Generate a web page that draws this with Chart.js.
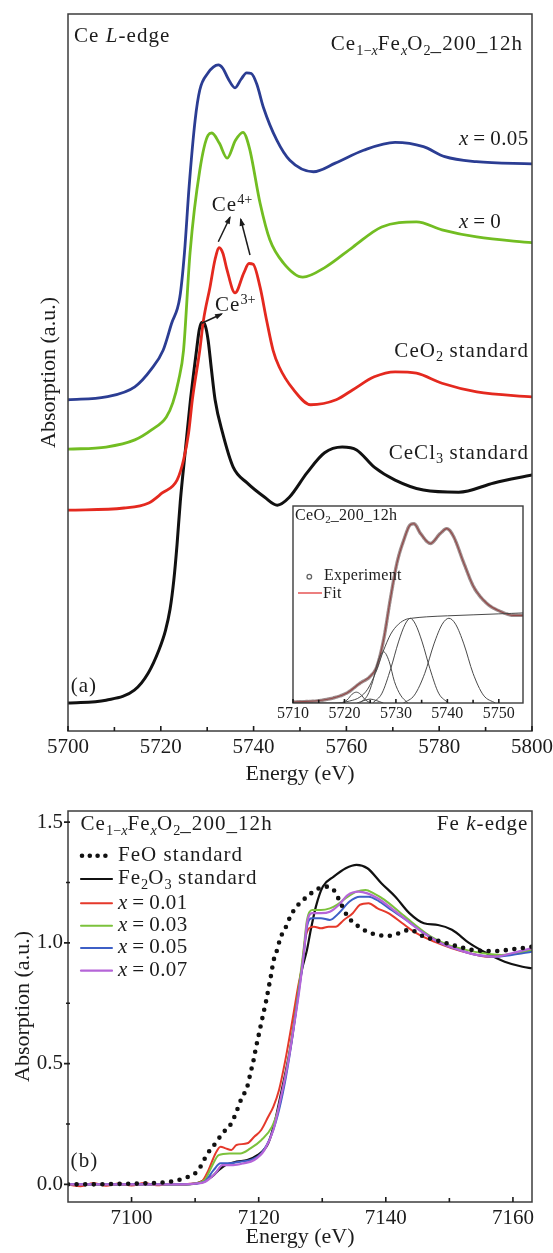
<!DOCTYPE html>
<html><head><meta charset="utf-8">
<script src="https://cdn.jsdelivr.net/npm/chart.js@4.4.1/dist/chart.umd.min.js"></script>
<style>
html,body{margin:0;padding:0;background:#fff}
body{position:relative;width:553px;height:1253px;overflow:hidden}
canvas{position:absolute;display:block}
.t{position:absolute;white-space:nowrap;line-height:1;font-family:"Liberation Serif",serif;color:#1c1c1c;letter-spacing:0.05em;z-index:5}
.t sub,.t sup{font-size:0.68em;line-height:0;position:relative;vertical-align:baseline;letter-spacing:0}
.t sub{top:0.32em}
.t sup{top:-0.5em}
</style></head><body>
<canvas id="ca" width="553" height="800" style="left:0;top:0"></canvas>
<canvas id="cb" width="553" height="453" style="left:0;top:800px"></canvas>
<canvas id="ci" width="270" height="230" style="left:263px;top:496px"></canvas>
<script>
// ---------------- Panel (a): Ce L-edge ----------------
const aXTicks = [5700, 5720, 5740, 5760, 5780, 5800];
const aXMinor = [5710, 5730, 5750, 5770, 5790];

const aE_x005 = [5700,5708.2,5714.4,5718,5720.5,5722.3,5724.1,5725.1,5726.1,5727.4,5728.4,5730.2,5731.3,5732.4,5733.4,5734.5,5736.0,5737.3,5738.5,5739.5,5740.7,5742.1,5745.0,5747.8,5752.9,5757.6,5763.7,5770.5,5776.6,5781.2,5788.0,5800];
const aY_x005 = [46.2,46.6,48.0,50.5,53.1,56.8,60.5,66.7,75.9,85.2,89.4,91.8,92.6,92.9,92.4,91.0,89.7,90.9,91.8,91.7,90.2,87.0,82.4,79.6,78.0,79.2,81.0,82.1,81.5,80.1,79.4,79.1];

const aE_x0 = [5700,5708.2,5714.4,5718.0,5721.2,5722.6,5723.8,5724.9,5726.3,5728.4,5730.2,5731.0,5732.6,5734.3,5736.1,5737.7,5739.1,5741.4,5743.5,5746.4,5750.6,5755.5,5761.4,5767.6,5775.1,5780.6,5788.1,5800];
const aY_x0 = [39.3,39.6,40.6,42.0,43.8,45.8,48.8,53.1,66.7,78.2,83.1,83.4,82.0,79.9,82.4,83.5,81.3,73.6,68.5,65.3,63.3,64.7,67.5,70.3,71.0,69.9,68.9,68.1];

const aE_ceo2 = [5700,5712.1,5717.4,5720.3,5723.5,5724.9,5726.0,5726.8,5728.4,5729.2,5730.6,5731.7,5732.6,5733.4,5734.2,5736.0,5737.9,5739.0,5739.9,5741.4,5742.8,5744.2,5745.5,5748.6,5752.3,5757.8,5761.4,5766.0,5770.5,5775.1,5780.6,5788.1,5800];
const aY_ceo2 = [30.8,31.1,31.8,33.2,35.0,37.8,41.6,46.2,53.1,57.3,61.9,65.8,67.4,66.6,64.5,61.1,63.9,65.2,65.1,61.9,57.3,53.1,50.8,47.6,45.5,46.2,47.6,49.4,50.1,49.9,48.5,47.3,46.6];

const aE_cecl3 = [5700,5708.2,5714.3,5717.3,5719.6,5721.0,5722.0,5722.8,5723.5,5724.2,5725.3,5726.4,5727.7,5728.3,5728.9,5729.6,5730.2,5730.9,5731.7,5733.3,5735.6,5738.6,5742.4,5745.1,5747.7,5751.5,5755.3,5759.1,5762.2,5766.0,5770.5,5776.6,5784.2,5791.8,5800];
const aY_cecl3 = [3.9,4.3,5.7,8.1,11.3,14.0,17.0,21.0,26.0,32.0,39.2,46.2,53.1,56.0,57.0,56.5,54.5,50.5,46.2,41.6,36.8,34.6,32.6,31.5,32.6,36.0,38.8,39.6,39.2,36.8,35.0,33.6,33.3,34.6,35.7];

// ---------------- Inset: CeO2_200_12h fit ----------------
const iXTicks = [5710, 5720, 5730, 5740, 5750];
const iXMinor = [5715, 5725, 5735, 5745];
const iE_exp = [5710,5715.9,5720.4,5723.0,5725.0,5726.3,5727.6,5728.9,5730.2,5731.5,5732.8,5733.5,5734.8,5736.7,5738.6,5739.9,5741.2,5743.2,5745.1,5747.7,5750.3,5752.9,5755];
const iY_exp = [0.01,0.03,0.10,0.20,0.27,0.37,0.64,1.05,1.42,1.65,1.81,1.82,1.72,1.62,1.72,1.77,1.69,1.42,1.18,1.01,0.93,0.89,0.89];
const iY_fit = [0.01,0.03,0.10,0.20,0.27,0.37,0.64,1.05,1.42,1.65,1.81,1.82,1.72,1.62,1.72,1.77,1.69,1.42,1.18,1.01,0.93,0.89,0.89];
const iE_step = [5710,5718,5721,5723,5724.5,5726,5727.5,5729,5730.5,5732,5733,5736,5740,5745,5750,5755];
const iY_step = [0,0,0.02,0.06,0.14,0.3,0.52,0.7,0.8,0.85,0.86,0.875,0.885,0.895,0.905,0.915];
const iE_g1 = [5719.5,5720.5,5721.5,5722.3,5723.1,5724.1,5725.1];
const iY_g1 = [0,0.03,0.09,0.11,0.09,0.03,0];
const iE_g2 = [5722.5,5723.8,5725,5726.2,5727.5];
const iY_g2 = [0,0.025,0.04,0.025,0];
const iE_g3 = [5723,5724.5,5725.5,5726.5,5727.6,5728.7,5729.7,5730.9,5732.3];
const iY_g3 = [0,0.08,0.22,0.42,0.52,0.42,0.22,0.08,0];
const iE_g4 = [5725.5,5727.3,5729,5730.5,5731.8,5732.8,5733.8,5735.1,5736.6,5738.3,5740.2];
const iY_g4 = [0,0.1,0.35,0.62,0.8,0.86,0.8,0.62,0.35,0.1,0];
const iE_g5 = [5731.5,5733.6,5735.6,5737.4,5739,5740.3,5741.6,5743.2,5745,5747,5749.3];
const iY_g5 = [0,0.08,0.3,0.6,0.8,0.86,0.8,0.6,0.3,0.08,0];

// ---------------- Panel (b): Fe K-edge ----------------
const bXTicks = [7100, 7120, 7140, 7160];
const bXMinor = [7110, 7130, 7150];
const bYTicks = [0, 0.5, 1.0, 1.5];
const bYMinor = [0.25, 0.75, 1.25];
const bNames = ['FeO standard', 'Fe<sub>2</sub>O<sub>3</sub> standard', '<i>x</i>&thinsp;=&thinsp;0.01', '<i>x</i>&thinsp;=&thinsp;0.03', '<i>x</i>&thinsp;=&thinsp;0.05', '<i>x</i>&thinsp;=&thinsp;0.07'];

const bE_FeO = [7090,7094,7098,7102,7104.5,7106.0,7107.4,7108.7,7110.1,7111.0,7111.8,7113.2,7114.3,7115.7,7116.5,7117.3,7118.2,7118.7,7119.2,7119.6,7120.0,7120.4,7120.8,7121.2,7121.6,7122.0,7122.3,7122.9,7123.4,7124.3,7125.1,7126.2,7127.6,7129.0,7130.4,7131.8,7132.9,7134.0,7135.4,7137.1,7138.7,7140.4,7142.1,7143.7,7146.0,7148.7,7151.5,7154.3,7157.1,7159.8,7163];
const bY_FeO = [0.0,0.0,0.002,0.004,0.007,0.011,0.018,0.029,0.048,0.080,0.121,0.170,0.211,0.253,0.301,0.356,0.404,0.460,0.515,0.570,0.618,0.667,0.715,0.763,0.819,0.874,0.922,0.971,1.019,1.067,1.116,1.157,1.191,1.219,1.233,1.219,1.164,1.109,1.074,1.046,1.033,1.029,1.040,1.054,1.026,1.005,0.984,0.968,0.966,0.973,0.984];

const bE_Fe2O3 = [7090,7100,7108,7110.1,7111.5,7112.6,7113.7,7114.8,7116.5,7118.2,7119.8,7121.5,7122.6,7123.4,7124.3,7125.1,7125.7,7126.5,7126.8,7127.6,7128.2,7129.0,7130.1,7131.8,7133.7,7135.4,7137.1,7139.3,7141.5,7143.7,7146.0,7148.2,7150.4,7153.2,7155.9,7158.7,7161.5,7163];
const bY_Fe2O3 = [0,0,0,0.003,0.018,0.031,0.059,0.080,0.094,0.101,0.121,0.170,0.266,0.363,0.473,0.584,0.694,0.846,0.888,0.971,1.054,1.150,1.233,1.274,1.309,1.323,1.309,1.247,1.191,1.123,1.081,1.074,1.054,0.998,0.957,0.922,0.901,0.895];

const bE_x001 = [7090,7092,7094,7096,7098,7100,7102,7104,7106,7108,7109.7,7111.0,7112.1,7113.2,7114.0,7114.8,7115.7,7116.5,7118.2,7119.3,7120.4,7121.5,7122.3,7123.2,7124.3,7125.4,7126.2,7126.8,7127.3,7127.9,7128.7,7129.8,7131.0,7132.1,7133.4,7134.8,7135.9,7137.3,7138.7,7140.4,7142.6,7144.8,7147.6,7150.4,7153.2,7155.9,7158.7,7161.5,7163];
const bY_x001 = [0.0,-0.008,0.006,-0.006,0.004,-0.005,0.006,-0.004,0.003,0.0,0.004,0.011,0.059,0.128,0.156,0.149,0.142,0.163,0.170,0.197,0.225,0.280,0.321,0.391,0.529,0.694,0.819,0.901,1.012,1.060,1.067,1.060,1.067,1.067,1.095,1.123,1.157,1.164,1.143,1.123,1.081,1.040,1.005,0.978,0.957,0.943,0.950,0.963,0.978];

const bE_x003 = [7090,7100,7108,7110,7111.5,7112.6,7113.7,7115.4,7117.1,7118.7,7120.4,7122.1,7123.2,7124.3,7125.4,7126.2,7127.0,7127.6,7128.4,7129.8,7131.2,7132.3,7133.7,7135.4,7136.8,7138.1,7139.8,7142.1,7144.3,7147.1,7149.8,7152.6,7155.4,7158.2,7160.9,7163];
const bY_x003 = [0,0,0,0.004,0.018,0.073,0.121,0.128,0.128,0.149,0.183,0.239,0.321,0.460,0.639,0.791,0.957,1.095,1.136,1.136,1.143,1.157,1.185,1.212,1.219,1.205,1.178,1.129,1.081,1.026,0.991,0.971,0.957,0.950,0.957,0.971];

const bE_x005 = [7090,7100,7108,7110,7111.5,7112.9,7114.0,7115.4,7117.1,7118.7,7120.4,7122.1,7123.2,7124.3,7125.4,7126.2,7127.0,7127.6,7128.4,7129.8,7131.2,7132.6,7134.3,7135.9,7137.3,7139.0,7140.9,7143.2,7146.0,7148.7,7151.5,7154.3,7157.1,7159.8,7163];
const bY_x005 = [0,0,0,0.003,0.011,0.059,0.087,0.087,0.094,0.101,0.128,0.211,0.308,0.446,0.626,0.777,0.929,1.067,1.102,1.102,1.095,1.123,1.171,1.191,1.191,1.171,1.136,1.095,1.040,0.998,0.971,0.950,0.943,0.950,0.963];

const bE_x007 = [7090,7100,7108,7110,7111.6,7113.2,7114.3,7116.0,7117.6,7119.3,7120.9,7122.3,7123.4,7124.6,7125.7,7126.4,7127.1,7127.6,7128.4,7129.8,7131.2,7132.6,7134.0,7135.7,7137.1,7138.7,7140.9,7143.2,7146.0,7148.7,7151.5,7154.3,7157.1,7159.8,7163];
const bY_x007 = [0,0,0,0.003,0.011,0.046,0.080,0.080,0.087,0.101,0.142,0.225,0.349,0.501,0.681,0.805,0.957,1.081,1.123,1.123,1.129,1.157,1.198,1.212,1.205,1.185,1.143,1.095,1.040,0.998,0.971,0.950,0.943,0.957,0.978];

// ---------------- helpers ----------------
Chart.defaults.font.family = '"Liberation Serif", serif';
Chart.defaults.color = '#1c1c1c';
const pts = (E, Y) => E.map((e, i) => ({x: e, y: Y[i]}));
const fixScale = px => s => {
  if (s.isHorizontal()) s.height = px; else s.width = px;
  s.paddingLeft = s.paddingRight = s.paddingTop = s.paddingBottom = 0;
};
const setTicks = arr => s => { s.ticks = arr.map(v => ({value: v})); };
function line(ds) {
  return Object.assign({pointRadius: 0, fill: false, cubicInterpolationMode: 'monotone', borderJoinStyle: 'round', borderCapStyle: 'round'}, ds);
}
function arrow(ctx, x1, y1, x2, y2) {
  ctx.beginPath(); ctx.moveTo(x1, y1); ctx.lineTo(x2, y2); ctx.stroke();
  const a = Math.atan2(y2 - y1, x2 - x1), L = 6.5, W = 2.8;
  ctx.beginPath();
  ctx.moveTo(x2 + 1.5 * Math.cos(a), y2 + 1.5 * Math.sin(a));
  ctx.lineTo(x2 - L * Math.cos(a) + W * Math.sin(a), y2 - L * Math.sin(a) - W * Math.cos(a));
  ctx.lineTo(x2 - L * Math.cos(a) - W * Math.sin(a), y2 - L * Math.sin(a) + W * Math.cos(a));
  ctx.closePath(); ctx.fill();
}
function deco(cfg) {
  return {
    id: 'deco',
    beforeDatasetsDraw(chart) {
      if (!cfg.white) return;
      const {ctx, chartArea: a} = chart;
      ctx.save(); ctx.fillStyle = '#fff'; ctx.fillRect(a.left, a.top, a.right - a.left, a.bottom - a.top); ctx.restore();
    },
    afterDatasetsDraw(chart) {
      const {ctx, chartArea: a, scales} = chart;
      const x = scales.x, y = scales.y;
      ctx.save();
      ctx.strokeStyle = '#3c3c3c'; ctx.lineWidth = cfg.frame || 1.5;
      ctx.strokeRect(a.left, a.top, a.right - a.left, a.bottom - a.top);
      ctx.strokeStyle = '#1c1c1c'; ctx.lineWidth = 1.6;
      ctx.beginPath();
      (cfg.xMajor || []).forEach(v => { const p = x.getPixelForValue(v); ctx.moveTo(p, a.bottom); ctx.lineTo(p, a.bottom - cfg.len); });
      (cfg.xMinor || []).forEach(v => { const p = x.getPixelForValue(v); ctx.moveTo(p, a.bottom); ctx.lineTo(p, a.bottom - cfg.len * 0.8); });
      (cfg.yMajor || []).forEach(v => { const p = y.getPixelForValue(v); ctx.moveTo(a.left - 4, p); ctx.lineTo(a.left + 2, p); });
      (cfg.yMinor || []).forEach(v => { const p = y.getPixelForValue(v); ctx.moveTo(a.left - 2, p); ctx.lineTo(a.left + 2, p); });
      ctx.stroke();
      if (cfg.extra) cfg.extra(chart, ctx);
      ctx.restore();
    }
  };
}

// ---------------- Chart (a) ----------------
new Chart(document.getElementById('ca'), {
  type: 'line',
  data: {datasets: [
    line({label: 'x = 0.05', data: pts(aE_x005, aY_x005), borderColor: '#2b3d93', borderWidth: 2.8}),
    line({label: 'x = 0', data: pts(aE_x0, aY_x0), borderColor: '#72bd22', borderWidth: 2.8}),
    line({label: 'CeO2 standard', data: pts(aE_ceo2, aY_ceo2), borderColor: '#e4291f', borderWidth: 2.8}),
    line({label: 'CeCl3 standard', data: pts(aE_cecl3, aY_cecl3), borderColor: '#111111', borderWidth: 3})
  ]},
  options: {
    responsive: false, animation: false, events: [],
    layout: {padding: {left: 0, right: 21, top: 14, bottom: 0}},
    plugins: {legend: {display: false}, tooltip: {enabled: false}},
    scales: {
      x: {type: 'linear', min: 5700, max: 5800, afterBuildTicks: setTicks(aXTicks), afterFit: fixScale(69),
          grid: {display: false, drawTicks: false}, border: {display: false},
          ticks: {padding: 4, font: {size: 21}, autoSkip: false, maxRotation: 0, callback: v => String(v)},
          title: {display: true, text: 'Energy (eV)', font: {size: 22}, padding: {top: 0, bottom: 13}}},
      y: {type: 'linear', min: 0, max: 100, afterFit: fixScale(68),
          grid: {display: false, drawTicks: false}, border: {display: false}, ticks: {display: false},
          title: {display: true, text: 'Absorption (a.u.)', font: {size: 22}, padding: {top: 36.5, bottom: 0}}}
    }
  },
  plugins: [deco({xMajor: aXTicks, xMinor: aXMinor, len: 5, extra: (chart, ctx) => {
    ctx.strokeStyle = '#1c1c1c'; ctx.fillStyle = '#1c1c1c'; ctx.lineWidth = 1.5;
    arrow(ctx, 218.3, 241.7, 230, 217.3);
    arrow(ctx, 250, 255, 240.7, 219.3);
    arrow(ctx, 201.7, 323.3, 221.7, 314);
  }})]
});

// ---------------- Inset ----------------
new Chart(document.getElementById('ci'), {
  type: 'line',
  data: {datasets: [
    line({label: 'step', data: pts(iE_step, iY_step), borderColor: '#4a4a4a', borderWidth: 1}),
    line({label: 'g1', data: pts(iE_g1, iY_g1), borderColor: '#4a4a4a', borderWidth: 1}),
    line({label: 'g2', data: pts(iE_g2, iY_g2), borderColor: '#4a4a4a', borderWidth: 1}),
    line({label: 'g3', data: pts(iE_g3, iY_g3), borderColor: '#4a4a4a', borderWidth: 1}),
    line({label: 'g4', data: pts(iE_g4, iY_g4), borderColor: '#4a4a4a', borderWidth: 1}),
    line({label: 'g5', data: pts(iE_g5, iY_g5), borderColor: '#4a4a4a', borderWidth: 1}),
    line({label: 'Experiment', data: pts(iE_exp, iY_exp), borderColor: 'rgba(105,80,80,0.65)', borderWidth: 3.4, borderDash: [2, 1.2]}),
    line({label: 'Fit', data: pts(iE_exp, iY_fit), borderColor: '#e23a3a', borderWidth: 1.1})
  ]},
  options: {
    responsive: false, animation: false, events: [],
    layout: {padding: {left: 30, right: 10, top: 10, bottom: 0}},
    plugins: {legend: {display: false}, tooltip: {enabled: false}},
    scales: {
      x: {type: 'linear', min: 5710, max: 5754.7, afterBuildTicks: setTicks(iXTicks), afterFit: fixScale(23),
          grid: {display: false, drawTicks: false}, border: {display: false},
          ticks: {padding: 1, font: {size: 16}, autoSkip: false, maxRotation: 0, callback: v => String(v)}},
      y: {type: 'linear', min: 0, max: 2, display: false}
    }
  },
  plugins: [deco({white: true, frame: 1.4, xMajor: iXTicks, xMinor: iXMinor, len: 4, extra: (chart, ctx) => {
    ctx.strokeStyle = '#666'; ctx.lineWidth = 1.3;
    ctx.beginPath(); ctx.arc(46.3, 80.7, 2.3, 0, Math.PI * 2); ctx.stroke();
    ctx.strokeStyle = '#e23a3a'; ctx.lineWidth = 1.3;
    ctx.beginPath(); ctx.moveTo(35, 97); ctx.lineTo(59, 97); ctx.stroke();
  }})]
});

// ---------------- Chart (b) ----------------
const bLegendY = [55.7, 79, 103.3, 125.7, 148, 170.7];
new Chart(document.getElementById('cb'), {
  type: 'line',
  data: {datasets: [
    line({label: 'FeO standard', data: pts(bE_FeO, bY_FeO), borderColor: '#111', borderWidth: 4.6, borderDash: [0, 8.6], order: 0}),
    line({label: 'Fe2O3 standard', data: pts(bE_Fe2O3, bY_Fe2O3), borderColor: '#111', borderWidth: 2.2, order: 6}),
    line({label: 'x = 0.01', data: pts(bE_x001, bY_x001), borderColor: '#e5392b', borderWidth: 2, order: 5}),
    line({label: 'x = 0.03', data: pts(bE_x003, bY_x003), borderColor: '#7cc23c', borderWidth: 2, order: 4}),
    line({label: 'x = 0.05', data: pts(bE_x005, bY_x005), borderColor: '#3d5fc6', borderWidth: 2, order: 3}),
    line({label: 'x = 0.07', data: pts(bE_x007, bY_x007), borderColor: '#b565d8', borderWidth: 2.2, order: 2})
  ]},
  options: {
    responsive: false, animation: false, events: [],
    layout: {padding: {left: 0, right: 21, top: 11, bottom: 0}},
    plugins: {legend: {display: false}, tooltip: {enabled: false}},
    scales: {
      x: {type: 'linear', min: 7090, max: 7163, afterBuildTicks: setTicks(bXTicks), afterFit: fixScale(51),
          grid: {display: false, drawTicks: false}, border: {display: false},
          ticks: {padding: 3.7, font: {size: 21}, autoSkip: false, maxRotation: 0, callback: v => String(v)},
          title: {display: true, text: 'Energy (eV)', font: {size: 22}, padding: {top: 0, bottom: 2.5}}},
      y: {type: 'linear', min: -0.073, max: 1.546, afterBuildTicks: setTicks(bYTicks), afterFit: fixScale(68),
          grid: {display: false, drawTicks: false}, border: {display: false},
          ticks: {padding: 5, font: {size: 21}, autoSkip: false, callback: v => v.toFixed(1)},
          title: {display: true, text: 'Absorption (a.u.)', font: {size: 22}, padding: {top: 10, bottom: 0}}}
    }
  },
  plugins: [deco({xMajor: bXTicks, xMinor: bXMinor, yMajor: bYTicks, yMinor: bYMinor, len: 5, extra: (chart, ctx) => {
    chart.data.datasets.forEach((ds, i) => {
      const yy = bLegendY[i];
      ctx.save();
      ctx.strokeStyle = ds.borderColor; ctx.lineWidth = ds.borderWidth; ctx.lineCap = 'round';
      if (ds.borderDash) ctx.setLineDash([0, 7.8]);
      ctx.beginPath(); ctx.moveTo(ds.borderDash ? 82 : 81, yy); ctx.lineTo(ds.borderDash ? 113 : 112, yy); ctx.stroke();
      ctx.restore();
    });
  }})]
});

// ---------------- text labels (real HTML text) ----------------
function addLabel(html, x, base, size, align, ls) {
  const d = document.createElement('div');
  d.className = 't'; d.innerHTML = html;
  d.style.fontSize = size + 'px';
  d.style.top = (base - 0.8375 * size) + 'px';
  if (align === 'r') d.style.right = (553 - x) + 'px'; else d.style.left = x + 'px';
  if (size < 18) d.style.letterSpacing = '0.02em';
  if (ls !== undefined) d.style.letterSpacing = ls;
  document.body.appendChild(d);
}
const CEFE = 'Ce<sub>1&minus;<i>x</i></sub>Fe<sub><i>x</i></sub>O<sub>2</sub>_200_12h';
addLabel('Ce <i>L</i>-edge', 74, 43, 21, 'l');
addLabel(CEFE, 523, 50.7, 21, 'r');
addLabel('<i>x</i>&thinsp;=&thinsp;0.05', 459, 145.7, 21, 'l', '0.02em');
addLabel('<i>x</i>&thinsp;=&thinsp;0', 459, 228.3, 21, 'l', '0.02em');
addLabel('Ce<sup>4+</sup>', 211.7, 211.7, 21, 'l');
addLabel('Ce<sup>3+</sup>', 215, 311.7, 21, 'l');
addLabel('CeO<sub>2</sub> standard', 529, 357.3, 21, 'r');
addLabel('CeCl<sub>3</sub> standard', 529, 459.3, 21, 'r');
addLabel('(a)', 70.7, 692.3, 21, 'l');
addLabel('CeO<sub>2</sub>_200_12h', 295, 520, 16, 'l');
addLabel('Experiment', 324, 580, 16, 'l');
addLabel('Fit', 323, 598, 16, 'l');
addLabel(CEFE, 80.5, 830.7, 21, 'l');
addLabel('Fe <i>k</i>-edge', 528.5, 830.7, 21, 'r');
addLabel('(b)', 70.6, 1167.7, 21, 'l');
bNames.forEach((n, i) => addLabel(n, 118, 800 + bLegendY[i] + 6, 21, 'l', i >= 2 ? '0.02em' : undefined));
</script>
</body></html>
